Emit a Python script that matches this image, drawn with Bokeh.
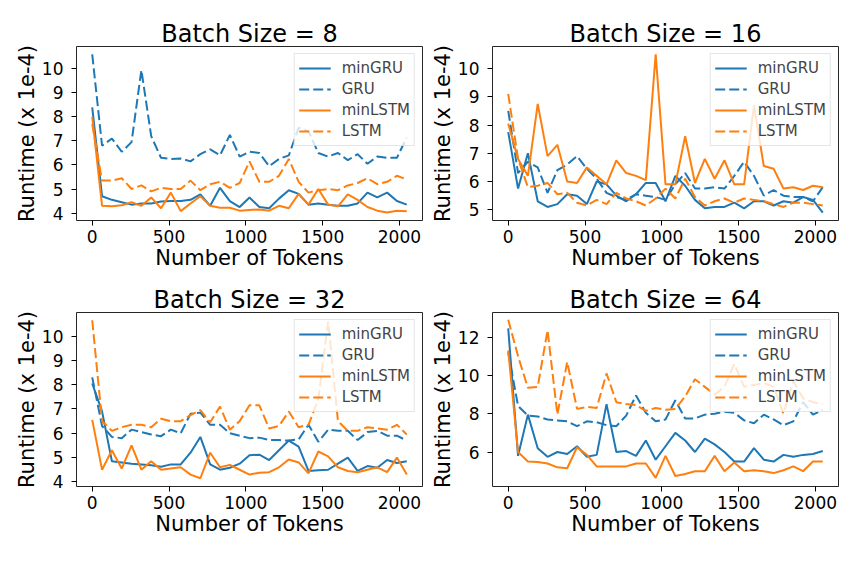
from bokeh.plotting import figure
from bokeh.layouts import column, row
from bokeh.models import Range1d, FixedTicker
from bokeh.embed import file_html
from bokeh.resources import INLINE

tokens = list(range(0, 2049, 64))
x_ticks = [0, 500, 1000, 1500, 2000]
series_names = ["minGRU", "GRU", "minLSTM", "LSTM"]

mingru_8 = [8.4, 4.7, 4.55, 4.45, 4.35, 4.4, 4.4, 4.48, 4.5, 4.5, 4.55, 4.78, 4.3, 5.05, 4.5, 4.25, 4.65, 4.25, 4.2, 4.6, 4.95, 4.8, 4.35, 4.4, 4.35, 4.3, 4.3, 4.4, 4.85, 4.65, 4.85, 4.5, 4.35]
gru_8 = [10.6, 6.8, 7.1, 6.55, 6.95, 9.95, 7.2, 6.3, 6.25, 6.27, 6.15, 6.45, 6.65, 6.4, 7.25, 6.35, 6.55, 6.5, 5.95, 6.25, 6.4, 7.55, 7.4, 6.5, 6.35, 6.5, 6.2, 6.45, 6.05, 6.35, 6.3, 6.3, 7.15]
minlstm_8 = [8.0, 4.3, 4.28, 4.32, 4.45, 4.3, 4.65, 4.2, 4.85, 4.08, 4.4, 4.7, 4.3, 4.22, 4.22, 4.1, 4.13, 4.15, 4.1, 4.3, 4.2, 4.8, 4.35, 5.0, 4.35, 4.28, 4.78, 4.55, 4.25, 4.1, 4.02, 4.1, 4.08]
lstm_8 = [7.7, 5.35, 5.35, 5.45, 5.0, 5.15, 4.9, 5.05, 5.0, 5.0, 5.35, 4.95, 5.2, 5.3, 5.05, 5.25, 6.15, 5.3, 5.3, 5.55, 6.25, 5.3, 4.85, 4.95, 5.0, 4.95, 5.15, 5.25, 5.45, 5.2, 5.3, 5.55, 5.4]

mingru_16 = [7.75, 5.75, 7.0, 5.3, 5.1, 5.2, 5.55, 5.5, 5.2, 6.0, 5.9, 5.5, 5.3, 5.55, 5.95, 5.95, 5.3, 6.2, 5.85, 5.35, 5.05, 5.1, 5.1, 5.25, 5.05, 5.3, 5.3, 5.15, 5.3, 5.25, 5.45, 5.35, 4.9]
gru_16 = [8.5, 6.3, 6.7, 6.5, 5.6, 6.4, 6.6, 6.9, 6.45, 6.1, 5.6, 5.45, 5.35, 5.55, 5.5, 5.45, 5.35, 5.9, 6.3, 5.75, 5.75, 5.8, 5.75, 6.2, 6.7, 6.2, 5.5, 5.7, 5.5, 5.45, 5.45, 5.3, 5.8]
minlstm_16 = [8.05, 6.8, 6.2, 8.75, 6.9, 7.3, 6.0, 5.95, 6.5, 6.2, 5.9, 6.75, 6.3, 6.2, 6.05, 10.5, 5.9, 5.9, 7.6, 5.95, 6.8, 6.1, 6.75, 5.9, 5.9, 8.7, 6.55, 6.45, 5.75, 5.8, 5.7, 5.85, 5.8]
lstm_16 = [9.1, 6.8, 5.8, 5.85, 5.95, 5.55, 5.6, 5.25, 5.15, 5.35, 5.2, 5.6, 5.4, 5.3, 5.15, 5.4, 5.75, 5.4, 6.1, 5.45, 5.15, 5.3, 5.4, 5.25, 5.4, 5.35, 5.3, 5.2, 5.1, 5.25, 5.25, 5.2, 5.15]

mingru_32 = [8.05, 6.9, 4.85, 4.8, 4.75, 4.72, 4.68, 4.62, 4.72, 4.72, 5.2, 5.85, 4.72, 4.5, 4.58, 4.75, 5.1, 5.12, 4.9, 5.3, 5.7, 5.45, 4.45, 4.48, 4.5, 4.75, 5.0, 4.45, 4.65, 4.58, 4.9, 4.78, 4.85]
gru_32 = [8.3, 6.3, 5.85, 5.8, 6.15, 6.05, 5.95, 5.88, 6.15, 6.0, 6.8, 6.85, 6.35, 6.35, 6.0, 5.9, 5.8, 5.82, 5.72, 5.72, 5.7, 5.75, 6.35, 5.65, 6.15, 6.1, 6.1, 5.72, 6.05, 6.1, 5.9, 5.9, 5.7]
minlstm_32 = [6.55, 4.5, 5.3, 4.55, 5.5, 4.5, 4.85, 4.5, 4.55, 4.6, 4.3, 4.15, 5.2, 4.6, 4.7, 4.5, 4.3, 4.38, 4.4, 4.6, 4.92, 4.8, 4.35, 5.25, 5.05, 4.6, 4.45, 4.4, 4.5, 4.6, 4.4, 5.0, 4.3]
lstm_32 = [10.65, 6.5, 6.1, 6.25, 6.35, 6.35, 6.25, 6.6, 6.5, 6.5, 6.75, 6.95, 6.45, 7.1, 6.15, 6.5, 7.15, 7.15, 6.2, 6.3, 6.9, 6.25, 6.35, 7.4, 10.6, 6.5, 6.1, 6.1, 6.25, 6.2, 6.15, 6.35, 5.95]

mingru_64 = [12.45, 5.8, 7.95, 6.2, 5.75, 6.0, 5.9, 6.3, 5.75, 5.85, 8.5, 6.0, 6.05, 5.8, 6.6, 5.6, 6.3, 7.0, 6.6, 6.0, 6.7, 6.4, 6.0, 5.5, 5.5, 6.2, 5.6, 5.5, 5.85, 5.75, 5.85, 5.9, 6.05]
gru_64 = [11.2, 8.4, 7.9, 7.85, 7.7, 7.65, 7.6, 7.35, 7.6, 7.55, 7.4, 7.35, 7.9, 8.95, 8.05, 7.6, 7.7, 8.7, 7.75, 7.75, 7.95, 8.0, 8.1, 8.05, 7.65, 7.5, 7.95, 7.7, 7.4, 7.6, 8.6, 7.95, 8.2]
minlstm_64 = [11.3, 6.0, 5.5, 5.48, 5.4, 5.2, 5.15, 6.25, 5.85, 5.25, 5.25, 5.25, 5.25, 5.4, 5.4, 4.65, 5.8, 4.75, 4.85, 5.0, 5.0, 5.8, 5.0, 5.45, 5.0, 5.05, 5.0, 4.9, 5.05, 5.25, 5.0, 5.5, 5.5]
lstm_64 = [12.9, 11.0, 9.35, 9.4, 12.35, 7.95, 10.7, 8.25, 8.35, 8.3, 10.1, 8.6, 8.5, 8.45, 8.15, 8.3, 8.2, 8.25, 8.9, 9.8, 9.4, 9.0, 9.4, 10.6, 9.4, 9.5, 9.6, 9.4, 8.0, 9.7, 8.8, 8.6, 8.5]

titles = ["Batch Size = 8", "Batch Size = 16", "Batch Size = 32", "Batch Size = 64"]
y_ticks_8 = [4, 5, 6, 7, 8, 9, 10]
y_ticks_16 = [5, 6, 7, 8, 9, 10]
y_ticks_32 = [4, 5, 6, 7, 8, 9, 10]
y_ticks_64 = [6, 8, 10, 12]

BLUE = "#1f77b4"
ORANGE = "#ff7f0e"
FONT = "DejaVu Sans"


def make_panel(title, data, yr, yticks, bl, br, bt, bb):
    p = figure(frame_width=346, frame_height=174,
               x_range=Range1d(-102.4, 2150.4), y_range=Range1d(*yr),
               output_backend="svg", toolbar_location=None,
               min_border_left=bl, min_border_right=br,
               min_border_top=bt, min_border_bottom=bb,
               background_fill_color="white", border_fill_color="white")
    styles = [(BLUE, "solid"), (BLUE, "10 4"), (ORANGE, "solid"), (ORANGE, "10 4")]
    for name, vals, (c, d) in zip(series_names, data, styles):
        p.line(tokens, vals, line_color=c, line_width=2, line_dash=d, legend_label=name)
    p.title.text = title
    p.title.align = "center"
    p.title.text_font = FONT
    p.title.text_font_size = "24px"
    p.title.text_font_style = "normal"
    p.title.text_color = "black"
    p.title.standoff = -2
    p.grid.visible = False
    p.outline_line_color = "black"
    p.outline_line_width = 1
    p.outline_line_alpha = 0.85
    for ax in (p.xaxis[0], p.yaxis[0]):
        ax.axis_line_color = None
        ax.major_tick_in = 0
        ax.major_tick_out = 5
        ax.minor_tick_line_color = None
        ax.major_tick_line_color = "black"
        ax.major_label_text_font = FONT
        ax.major_label_text_font_size = "17px"
        ax.major_label_text_color = "black"
        ax.axis_label_text_font = FONT
        ax.axis_label_text_font_size = "21px"
        ax.axis_label_text_font_style = "normal"
        ax.axis_label_text_color = "black"
    p.xaxis.ticker = FixedTicker(ticks=x_ticks)
    p.yaxis.ticker = FixedTicker(ticks=yticks)
    p.xaxis.axis_label = "Number of Tokens"
    p.yaxis.axis_label = "Runtime (x 1e-4)"
    p.xaxis.major_label_standoff = 4
    p.xaxis.axis_label_standoff = 0
    p.yaxis.major_label_standoff = 8
    p.yaxis.axis_label_standoff = 0
    lg = p.legend[0]
    lg.location = "top_right"
    lg.margin = 7
    lg.padding = 4
    lg.spacing = 1
    lg.glyph_width = 32
    lg.glyph_height = 20
    lg.label_height = 20
    lg.label_standoff = 11
    lg.label_text_font = FONT
    lg.label_text_font_size = "15px"
    lg.border_line_color = "#cccccc"
    lg.border_line_width = 1
    lg.background_fill_alpha = 0.8
    return p


p1 = make_panel(titles[0], [mingru_8, gru_8, minlstm_8, lstm_8], (3.69, 10.93), y_ticks_8, 76, 5, 46, 52)
p2 = make_panel(titles[1], [mingru_16, gru_16, minlstm_16, lstm_16], (4.62, 10.78), y_ticks_16, 65, 10, 46, 52)
p3 = make_panel(titles[2], [mingru_32, gru_32, minlstm_32, lstm_32], (3.81, 10.97), y_ticks_32, 76, 5, 40, 50)
p4 = make_panel(titles[3], [mingru_64, gru_64, minlstm_64, lstm_64], (4.2, 13.28), y_ticks_64, 65, 10, 40, 50)

layout = column(row(p1, p2), row(p3, p4))
open("out.html", "w").write(file_html(layout, INLINE))
